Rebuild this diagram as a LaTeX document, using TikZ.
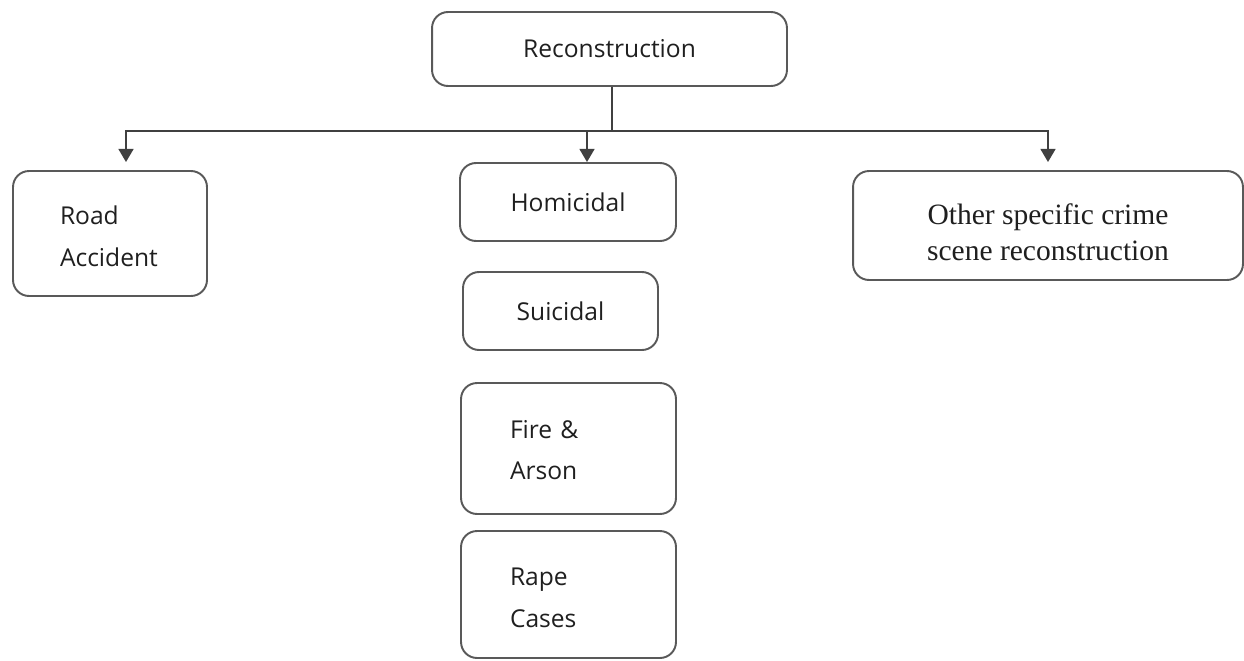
\documentclass[tikz,border=0pt]{standalone}
\usepackage{fontspec}
\setmainfont{Liberation Serif}
\newfontfamily\boxsans{Open Sans}
\usetikzlibrary{arrows.meta}
\begin{document}
\begin{tikzpicture}[x=0.02cm,y=-0.02cm,
  box/.style={draw=black!65, line width=1.1pt, rounded corners=0.32cm, inner sep=0pt, text=black!88},
  sansbox/.style={box, font=\boxsans\fontsize{14}{23.8}\selectfont},
  leftbox/.style={sansbox, align=left},
  conn/.style={draw=black!75, line width=1.1pt},
  arr/.style={conn, -{Triangle[width=8.5pt,length=7.5pt]}}]
\useasboundingbox (0,0) rectangle (1244,660);
\node[sansbox, minimum width=7.1cm, minimum height=1.48cm] (rec) at (609.5,49) {Reconstruction};
\node[leftbox, text width=2cm, inner xsep=0.94cm, minimum height=2.5cm] (road) at (110,233.5) {\rule{0pt}{14pt}Road\\Accident};
\node[sansbox, minimum width=4.32cm, minimum height=1.56cm] (hom) at (568,202) {Homicidal};
\node[sansbox, minimum width=3.9cm, minimum height=1.56cm] (sui) at (560.5,311) {Suicidal};
\node[leftbox, text width=2.34cm, inner xsep=0.98cm, minimum height=2.62cm] (fire) at (568.5,448.5) {\rule{0pt}{12pt}Fire \&\\Arson};
\node[leftbox, text width=2.34cm, inner xsep=0.98cm, minimum height=2.54cm] (rape) at (568.5,594.5) {\rule{0pt}{14pt}Rape\\Cases};
\node[box, align=center, font=\fontsize{16.8}{21}\selectfont, minimum width=7.8cm, minimum height=2.18cm] (oth) at (1048,225.5) {\rule{0pt}{19.5pt}Other specific crime\\scene reconstruction};
\coordinate (j) at (612,131);
\draw[conn] (rec.south -| j) -- (j);
\draw[arr, shorten >=0.16cm] (j) -| ([xshift=0.32cm]road.north);
\draw[arr] (j) -| ([xshift=0.38cm]hom.north);
\draw[arr, shorten >=0.16cm] (j) -| (oth.north);
\end{tikzpicture}
\end{document}
